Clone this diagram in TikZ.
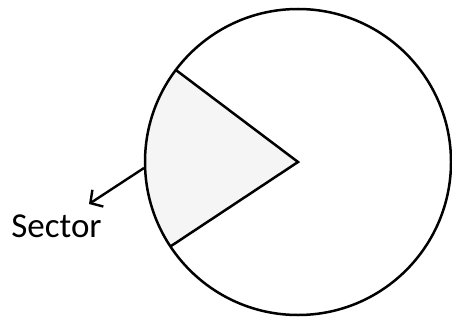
\documentclass[tikz,border=0pt]{standalone}
\usepackage{fontspec}
\setmainfont{Carlito}
\usetikzlibrary{arrows.meta}
\begin{document}
\begin{tikzpicture}[x=1pt,y=-1pt,
  outline/.style={line width=2.5pt,black},
  sectorfill/.style={fill=black!4},
  pointer/.style={line width=2.4pt,-{Straight Barb[length=9pt,width=20pt,line width=2.4pt]}}]
\useasboundingbox (0,0) rectangle (452,321);
\coordinate (c) at (298,162);
\fill[sectorfill] (c) -- ++(146.5:153) arc[start angle=146.5,end angle=217,radius=153] -- cycle;
\draw[outline] (c) circle[radius=153];
\draw[outline,line join=miter] (c) ++(146.5:153) coordinate (top) -- (c) -- ++(217:153) coordinate (bot);
\node[anchor=base,inner sep=0pt,font=\fontsize{35}{38}\selectfont] (lbl) at (56.5,237) {Sector};
\coordinate (from) at (144,168);
\coordinate (tip) at (89,204);
\draw[pointer] (from) -- (tip);
\end{tikzpicture}
\end{document}
